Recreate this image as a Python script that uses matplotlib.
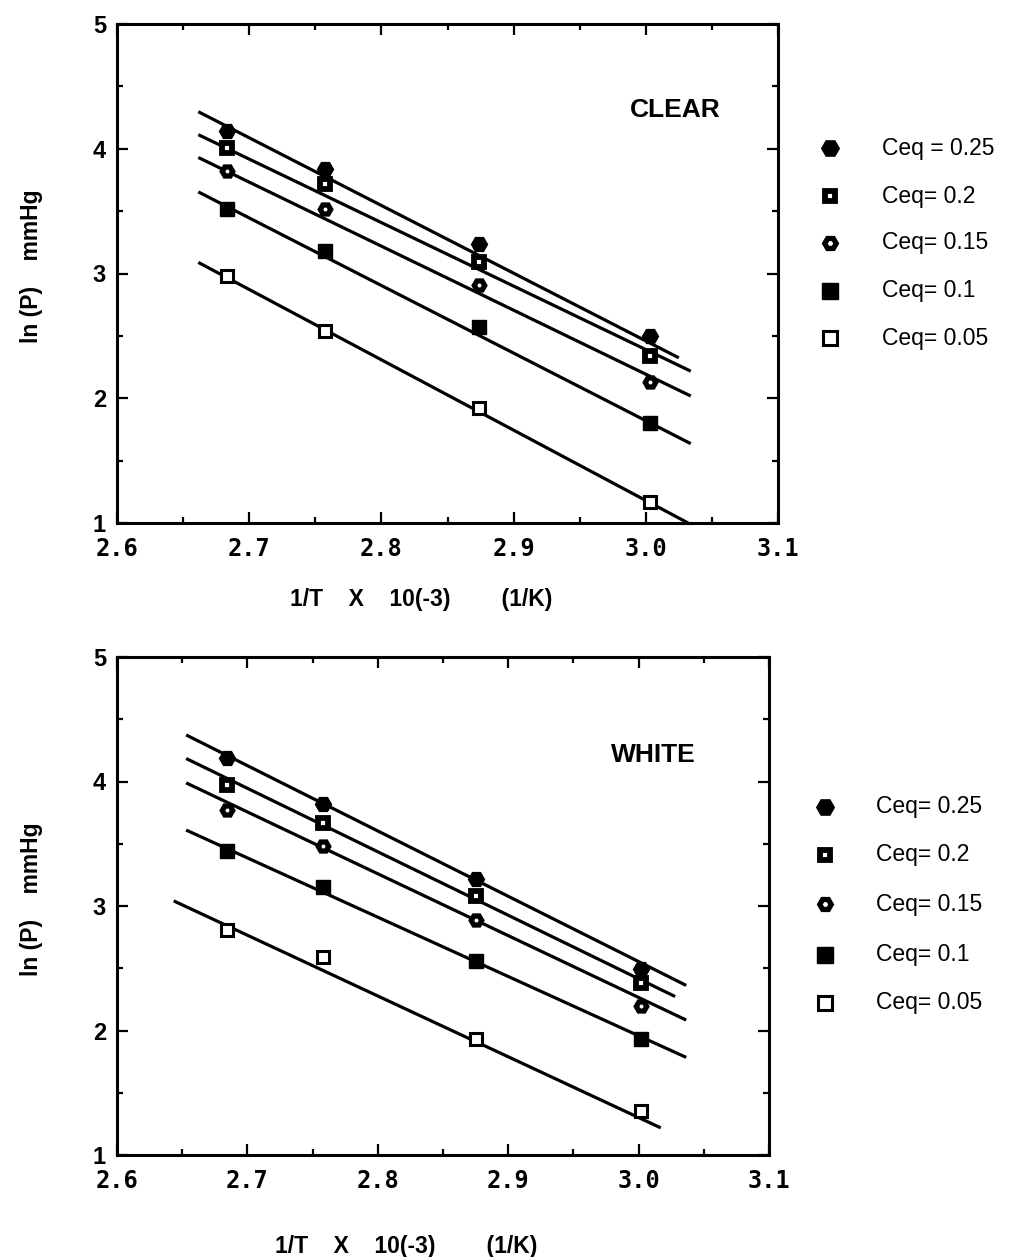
import matplotlib
matplotlib.use("Agg")
import matplotlib.pyplot as plt
from matplotlib.ticker import MultipleLocator, FormatStrFormatter
from matplotlib.lines import Line2D

# ---- data ----
ceq_clear = ["Ceq = 0.25", "Ceq= 0.2", "Ceq= 0.15", "Ceq= 0.1", "Ceq= 0.05"]
ceq_white = ["Ceq= 0.25", "Ceq= 0.2", "Ceq= 0.15", "Ceq= 0.1", "Ceq= 0.05"]

x_clear = [2.683, 2.757, 2.874, 3.003]
clear_025 = [4.14, 3.84, 3.24, 2.50]
clear_020 = [4.01, 3.72, 3.09, 2.34]
clear_015 = [3.82, 3.52, 2.91, 2.13]
clear_010 = [3.52, 3.18, 2.57, 1.80]
clear_005 = [2.98, 2.54, 1.92, 1.17]

x_white = [2.684, 2.758, 2.875, 3.002]
white_025 = [4.19, 3.82, 3.22, 2.49]
white_020 = [3.97, 3.67, 3.08, 2.38]
white_015 = [3.77, 3.48, 2.89, 2.20]
white_010 = [3.44, 3.15, 2.56, 1.93]
white_005 = [2.81, 2.59, 1.93, 1.35]

# fitted lines: start/end (x, y) per series
clear_fit_x0 = [2.6615, 2.6615, 2.6615, 2.6615, 2.6615]
clear_fit_y0 = [4.297, 4.113, 3.930, 3.654, 3.089]
clear_fit_x1 = [3.025, 3.034, 3.034, 3.034, 3.032]
clear_fit_y1 = [2.324, 2.217, 2.018, 1.636, 1.00]

white_fit_x0 = [2.653, 2.653, 2.653, 2.653, 2.6435]
white_fit_y0 = [4.374, 4.185, 3.989, 3.610, 3.041]
white_fit_x1 = [3.0365, 3.028, 3.0365, 3.0365, 3.017]
white_fit_y1 = [2.362, 2.273, 2.084, 1.784, 1.218]

# marker look per series: (marker, face, size, edge width)
styles = [("H", "black", 11.5, 1.0),
          ("s", "white", 7.0, 4.2),
          ("H", "white", 7.5, 3.8),
          ("s", "black", 10.5, 1.0),
          ("s", "white", 9.0, 2.2)]

W, H = 1013, 1257
fig = plt.figure(figsize=(W / 100, H / 100), dpi=100)

sans = "Liberation Sans"
mono = "DejaVu Sans Mono"


def panel(rect, xs, ys_list, x0, y0, x1, y1, tag, tag_xy):
    ax = fig.add_axes(rect)
    for ys, a, b, c, d, st in zip(ys_list, x0, y0, x1, y1, styles):
        ax.plot([a, c], [b, d], color="black", lw=2.3, solid_capstyle="butt")
        m, fc, ms, mew = st
        ax.plot(xs, ys, ls="none", marker=m, mfc=fc, mec="black",
                ms=ms, mew=mew)
    ax.set_xlim(2.6, 3.1)
    ax.set_ylim(1, 5)
    ax.xaxis.set_major_locator(MultipleLocator(0.1))
    ax.xaxis.set_minor_locator(MultipleLocator(0.05))
    ax.yaxis.set_major_locator(MultipleLocator(1))
    ax.yaxis.set_minor_locator(MultipleLocator(0.5))
    ax.xaxis.set_major_formatter(FormatStrFormatter("%.1f"))
    ax.tick_params(which="both", direction="in", top=True, right=True,
                   width=1.6, color="black")
    ax.tick_params(which="major", length=8)
    ax.tick_params(which="minor", length=4.5)
    ax.tick_params(axis="x", pad=10)
    ax.tick_params(axis="y", pad=8)
    for lab in ax.get_xticklabels():
        lab.set_fontfamily(mono)
        lab.set_fontweight("bold")
        lab.set_fontsize(17)
    for lab in ax.get_yticklabels():
        lab.set_fontfamily(sans)
        lab.set_fontweight("bold")
        lab.set_fontsize(17)
    for sp in ax.spines.values():
        sp.set_linewidth(2.2)
    ax.text(tag_xy[0], tag_xy[1], tag, ha="center", va="center",
            family=sans, weight="bold", fontsize=19)
    return ax


ax1 = panel([117 / W, 1 - 523 / H, 661 / W, 499 / H], x_clear,
            [clear_025, clear_020, clear_015, clear_010, clear_005],
            clear_fit_x0, clear_fit_y0, clear_fit_x1, clear_fit_y1,
            "CLEAR", (3.022, 4.307))
ax2 = panel([117 / W, 1 - 1155 / H, 652 / W, 498 / H], x_white,
            [white_025, white_020, white_015, white_010, white_005],
            white_fit_x0, white_fit_y0, white_fit_x1, white_fit_y1,
            "WHITE", (3.011, 4.21))

# axis labels
xlab = "1/T    X    10(-3)        (1/K)"
ylab = "ln (P)    mmHg"
fig.text(290 / W, 1 - 600 / H, xlab, ha="left", va="center",
         family=sans, weight="bold", fontsize=16.5)
fig.text(275 / W, 1 - 1246 / H, xlab, ha="left", va="center",
         family=sans, weight="bold", fontsize=16.5)
fig.text(32 / W, 1 - 266 / H, ylab, ha="center", va="center", rotation=90,
         family=sans, weight="bold", fontsize=16.5)
fig.text(32 / W, 1 - 899 / H, ylab, ha="center", va="center", rotation=90,
         family=sans, weight="bold", fontsize=16.5)

# legends drawn beside each panel
rows_top = [148, 196, 243, 291, 338]
rows_bot = [807, 855, 904, 955, 1003]
for rows, labels, mx, tx in [(rows_top, ceq_clear, 830, 882),
                             (rows_bot, ceq_white, 825, 876)]:
    for ry, lab, st in zip(rows, labels, styles):
        m, fc, ms, mew = st
        fig.add_artist(Line2D([mx / W], [1 - ry / H], transform=fig.transFigure,
                              ls="none", marker=m, mfc=fc, mec="black",
                              ms=ms * 1.1, mew=mew))
        fig.text(tx / W, 1 - ry / H, lab, ha="left", va="center",
                 family=sans, fontsize=16.5)

fig.savefig("out.png", dpi=100, facecolor="white")
